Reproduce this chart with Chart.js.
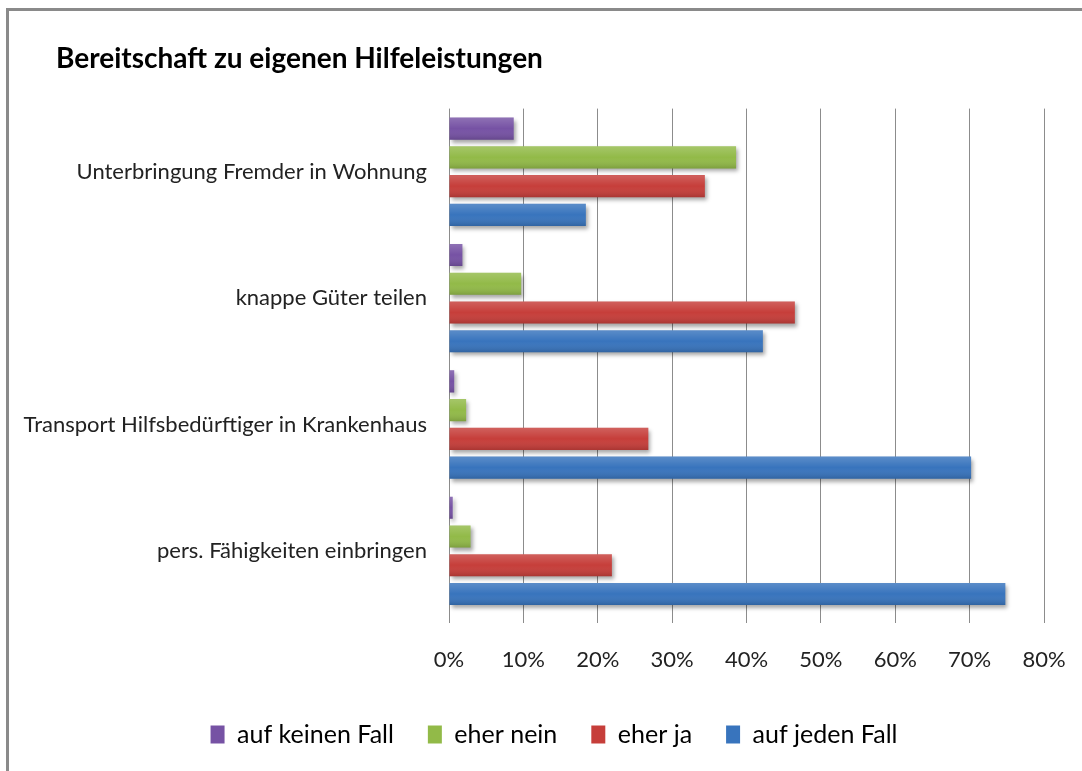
<!DOCTYPE html>
<html>
<head>
<meta charset="utf-8">
<script src="https://cdn.jsdelivr.net/npm/chart.js@4.4.0/dist/chart.umd.min.js"></script>
<style>
  html, body { margin:0; padding:0; background:#fff; }
  #wrap { position:relative; width:1082px; height:771px; overflow:hidden; }
  #frame { position:absolute; left:6px; top:8px; width:1200px; height:900px;
           border-top:3px solid #8a8a8a; border-left:3px solid #8a8a8a; }
  canvas { position:absolute; left:0; top:0; }
</style>
</head>
<body>
<div id="wrap">
  <div id="frame"></div>
  <canvas id="chart" width="1082" height="771"></canvas>
</div>
<script>
// Kategorien (von oben nach unten)
var categories = [
    'Unterbringung Fremder in Wohnung',
    'knappe Güter teilen',
    'Transport Hilfsbedürftiger in Krankenhaus',
    'pers. Fähigkeiten einbringen'
];
var seriesNames = ['auf keinen Fall', 'eher nein', 'eher ja', 'auf jeden Fall'];
var aufKeinenFall = [8.7, 1.8, 0.7, 0.5];
var eherNein      = [38.6, 9.7, 2.3, 2.9];
var eherJa        = [34.4, 46.5, 26.8, 21.9];
var aufJedenFall  = [18.4, 42.2, 70.2, 74.8];
var xTicks = [0, 10, 20, 30, 40, 50, 60, 70, 80];

var colors = ['#7652a4', '#92ba48', '#c63e3a', '#3874bd'];
var fontFam = 'Lato, "Open Sans", sans-serif';

// Titel nach rechts ruecken, Legende etwas verschieben
var shiftBoxes = {
    id:'shiftBoxes',
    afterLayout:function(chart){
        chart.titleBlock.left = 56;
        chart.legend.left += 32;
        chart.legend.right += 32;
    }
};

// Schatten + leichter Verlauf auf den Balken
var barLook = {
    id:'barLook',
    beforeDatasetsDraw:function(chart){
        var ctx = chart.ctx;
        ctx.save();
        ctx.shadowColor = 'rgba(0,0,0,0.35)';
        ctx.shadowOffsetX = 2;
        ctx.shadowOffsetY = 3;
        ctx.shadowBlur = 4;
    },
    afterDatasetsDraw:function(chart){
        var ctx = chart.ctx;
        ctx.restore();
        ctx.save();
        chart.data.datasets.forEach(function(ds, i){
            chart.getDatasetMeta(i).data.forEach(function(bar){
                var top = bar.y - bar.height/2;
                var g = ctx.createLinearGradient(0, top, 0, top + bar.height);
                g.addColorStop(0, 'rgba(255,255,255,0.18)');
                g.addColorStop(0.5, 'rgba(255,255,255,0)');
                g.addColorStop(1, 'rgba(0,0,0,0.15)');
                ctx.fillStyle = g;
                ctx.fillRect(bar.base, top, bar.x - bar.base, bar.height);
            });
        });
        ctx.restore();
    }
};

var datasets = [aufKeinenFall, eherNein, eherJa, aufJedenFall].map(function(d, i){
    return {
        label:seriesNames[i],
        data:d,
        backgroundColor:colors[i],
        borderWidth:0,
        categoryPercentage:0.91,
        barPercentage:0.77
    };
});

var chart = new Chart(document.getElementById('chart'), {
    type:'bar',
    plugins:[barLook, shiftBoxes],
    data:{ labels:categories, datasets:datasets },
    options:{
        responsive:false,
        animation:false,
        indexAxis:'y',
        layout:{ padding:{ left:0, right:38, top:0, bottom:14 } },
        plugins:{
            title:{
                display:true,
                text:'Bereitschaft zu eigenen Hilfeleistungen',
                align:'start',
                color:'#000',
                font:{ family:fontFam, size:28, weight:'bold' },
                padding:{ top:42, bottom:33 }
            },
            legend:{
                position:'bottom',
                labels:{
                    color:'#000',
                    font:{ family:fontFam, size:25 },
                    boxWidth:14,
                    boxHeight:18,
                    padding:34
                }
            },
            tooltip:{ enabled:false }
        },
        scales:{
            x:{
                min:0, max:80,
                afterBuildTicks:function(s){ s.ticks = xTicks.map(function(v){ return {value:v}; }); },
                afterFit:function(s){ s.height = 74; s.paddingRight = 0; s.paddingLeft = 0; },
                grid:{ color:'#8c8c8c', tickLength:9, drawOnChartArea:true },
                border:{ display:false },
                ticks:{
                    color:'#222',
                    font:{ family:fontFam, size:22 },
                    padding:24,
                    callback:function(v){ return v + '%'; }
                }
            },
            y:{
                afterFit:function(s){ s.width = 449; },
                grid:{ display:false, drawTicks:false },
                border:{ display:false },
                ticks:{
                    color:'#222',
                    font:{ family:fontFam, size:22 },
                    padding:22
                }
            }
        }
    }
});
</script>
</body>
</html>
